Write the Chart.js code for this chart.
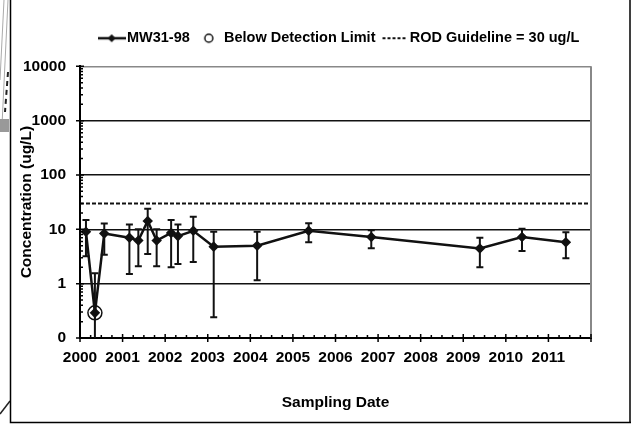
<!DOCTYPE html>
<html>
<head>
<meta charset="utf-8">
<script src="https://cdn.jsdelivr.net/npm/chart.js@4.4.1/dist/chart.umd.min.js"></script>
<style>
  html, body { margin: 0; padding: 0; background: #fff; }
  #wrap { width: 631px; height: 424px; position: relative; }
</style>
</head>
<body>
<div id="wrap"><canvas id="chemChart" width="631" height="424"></canvas></div>
<script>
// ---------- data ----------
const sampleDates = [2000.14, 2000.35, 2000.57, 2001.16, 2001.37, 2001.59, 2001.80, 2002.14, 2002.30, 2002.66,
      2003.14, 2004.16, 2005.37, 2006.84, 2009.39, 2010.38, 2011.41];
const concentration = [9.0, 0.29, 8.4, 7.0, 6.2, 14.2, 6.2, 8.6, 7.5, 9.4, 4.8, 5.0, 9.4, 7.2, 4.45, 7.2, 5.8];
const errHigh = [14.8, 1.55, 12.8, 12.3, 10, 24, 10, 14.8, 12.3, 17, 9.0, 9.0, 12.9, 9.6, 7.0, 10.2, 8.8];
const errLow = [3.2, 0.05, 3.4, 1.5, 2.1, 3.5, 2.1, 2.0, 2.3, 2.5, 0.24, 1.16, 5.8, 4.5, 2.0, 4.0, 2.95];

// non-detect sample (circled)
const bdlDates = [2000.35];
const bdlValues = [0.29];

// ROD guideline
const guidelineValue = 30;
const guidelineRange = [2000, 2012];

// axis ticks
const yTickValues = [0.1, 1, 10, 100, 1000, 10000];
const yTickLabels = ["0", "1", "10", "100", "1000", "10000"];
const xTickYears = [2000, 2001, 2002, 2003, 2004, 2005, 2006, 2007, 2008, 2009, 2010, 2011, 2012];

const legendNames = ["MW31-98", "Below Detection Limit", "ROD Guideline = 30 ug/L"];

const FONT = "'Liberation Sans', Arial, sans-serif";
const INK = "#111";

// --- legend symbols as small canvases ---
function makeSymbol(kind) {
      const c = document.createElement("canvas");
      c.width = kind === "circle" ? 12 : 28;
      c.height = 12;
      const g = c.getContext("2d");
      g.strokeStyle = INK;
      g.fillStyle = INK;
      if (kind === "line") {
            g.lineWidth = 2.5;
            g.beginPath(); g.moveTo(0, 6); g.lineTo(28, 6); g.stroke();
            g.beginPath(); g.moveTo(14, 2); g.lineTo(18, 6); g.lineTo(14, 10); g.lineTo(10, 6); g.closePath(); g.fill();
      } else if (kind === "circle") {
            g.lineWidth = 1.5;
            g.beginPath(); g.arc(6, 6, 4, 0, Math.PI * 2); g.stroke();
      } else {
            g.lineWidth = 2;
            g.setLineDash([3, 2]);
            g.beginPath(); g.moveTo(2, 6); g.lineTo(26, 6); g.stroke();
      }
      return c;
}
const legendSymbols = [makeSymbol("line"), makeSymbol("circle"), makeSymbol("dash")];

// --- error bars, minor ticks and the frame ---
const extrasPlugin = {
      id: "extras",
      afterLayout(chart) {
            // legend sits a little right of the plot centre in the original
            chart.legend.left += 6;
            chart.legend.right += 6;
      },
      beforeDraw(chart) {
            const g = chart.ctx;
            g.save();
            g.fillStyle = "#fff";
            g.fillRect(0, 0, chart.width, chart.height);
            // bits of the neighbouring figure at the left edge
            g.strokeStyle = "#aaa";
            g.lineWidth = 1;
            g.beginPath(); g.moveTo(8, 0); g.lineTo(2, 125); g.stroke();
            g.beginPath(); g.moveTo(4, 0); g.lineTo(0, 80); g.stroke();
            g.fillStyle = "#999";
            g.fillRect(0, 119, 9, 13);
            g.strokeStyle = "#222";
            g.lineWidth = 2;
            g.setLineDash([5, 4]);
            g.beginPath(); g.moveTo(8, 72); g.lineTo(5, 112); g.stroke();
            g.setLineDash([]);
            g.lineWidth = 1.5;
            g.beginPath(); g.moveTo(0, 414); g.lineTo(10, 401); g.stroke();
            // frame
            g.strokeStyle = "#000";
            g.lineWidth = 1.5;
            g.beginPath();
            g.moveTo(10.5, 0); g.lineTo(10.5, 422.5); g.lineTo(631, 422.5);
            g.moveTo(630, 0); g.lineTo(630, 422.5);
            g.stroke();
            g.restore();
      },
      afterDatasetsDraw(chart) {
            const g = chart.ctx;
            const xs = chart.scales.x;
            const ys = chart.scales.y;
            const area = chart.chartArea;

            g.save();
            // right border of plot area
            g.strokeStyle = "#888";
            g.lineWidth = 2;
            g.beginPath(); g.moveTo(area.right, area.top); g.lineTo(area.right, area.bottom); g.stroke();

            // error bars
            g.beginPath();
            g.rect(area.left, area.top - 2, area.right - area.left, area.bottom - area.top + 2);
            g.clip();
            g.strokeStyle = INK;
            g.lineWidth = 2;
            sampleDates.forEach((d, i) => {
                  const px = xs.getPixelForValue(d);
                  const top = ys.getPixelForValue(errHigh[i]);
                  const bot = ys.getPixelForValue(errLow[i]);
                  g.beginPath();
                  g.moveTo(px, top); g.lineTo(px, bot);
                  g.moveTo(px - 3.5, top); g.lineTo(px + 3.5, top);
                  g.moveTo(px - 3.5, bot); g.lineTo(px + 3.5, bot);
                  g.stroke();
            });
            g.restore();

            // tick marks
            g.save();
            g.strokeStyle = "#000";
            g.lineWidth = 1.5;
            g.beginPath();
            for (let p = -1; p <= 3; p++) {
                  for (let k = 2; k <= 9; k++) {
                        const py = ys.getPixelForValue(k * Math.pow(10, p));
                        g.moveTo(area.left, py); g.lineTo(area.left + 3, py);
                  }
            }
            yTickValues.forEach((v) => {
                  const py = ys.getPixelForValue(v);
                  g.moveTo(area.left - 4, py); g.lineTo(area.left + 4, py);
            });
            xTickYears.forEach((yr) => {
                  const px = xs.getPixelForValue(yr);
                  g.moveTo(px, area.bottom - 4); g.lineTo(px, area.bottom + 4);
                  if (yr < 2012) {
                        for (let q = 1; q < 4; q++) {
                              const mx = xs.getPixelForValue(yr + q / 4);
                              g.moveTo(mx, area.bottom - 3); g.lineTo(mx, area.bottom);
                        }
                  }
            });
            g.stroke();
            g.restore();
      },
};

const seriesPoints = sampleDates.map((d, i) => ({ x: d, y: concentration[i] }));
const bdlPoints = bdlDates.map((d, i) => ({ x: d, y: bdlValues[i] }));
const guidePoints = guidelineRange.map((d) => ({ x: d, y: guidelineValue }));

new Chart(document.getElementById("chemChart"), {
      type: "line",
      data: {
            datasets: [
                  {
                        label: legendNames[0],
                        data: seriesPoints,
                        borderColor: INK,
                        backgroundColor: INK,
                        borderWidth: 2.5,
                        pointStyle: "rectRot",
                        pointRadius: 3.5,
                        tension: 0,
                  },
                  {
                        label: legendNames[1],
                        data: bdlPoints,
                        showLine: false,
                        borderColor: INK,
                        backgroundColor: "rgba(0,0,0,0)",
                        pointStyle: "circle",
                        pointRadius: 7,
                        pointBorderWidth: 1.5,
                  },
                  {
                        label: legendNames[2],
                        data: guidePoints,
                        borderColor: INK,
                        borderWidth: 2,
                        borderDash: [4, 2],
                        pointRadius: 0,
                  },
            ],
      },
      options: {
            responsive: false,
            animation: false,
            layout: { padding: { top: 20, left: 10, right: 40, bottom: 12 } },
            plugins: {
                  tooltip: { enabled: false },
                  legend: {
                        position: "top",
                        fullSize: false,
                        labels: {
                              usePointStyle: true,
                              pointStyleWidth: 16,
                              padding: 11,
                              color: "#000",
                              font: { family: FONT, size: 14.5, weight: "bold" },
                              generateLabels: (chart) =>
                                    legendNames.map((name, i) => ({
                                          text: name,
                                          datasetIndex: i,
                                          pointStyle: legendSymbols[i],
                                          fontColor: "#000",
                                          lineWidth: 0,
                                    })),
                        },
                  },
                  // spacer between legend and plot
                  subtitle: {
                        display: true,
                        text: "",
                        weight: 100,
                        padding: 0,
                        font: { size: 9, lineHeight: 1.2 },
                  },
            },
            scales: {
                  x: {
                        type: "linear",
                        min: 2000,
                        max: 2012,
                        afterFit: (scale) => { scale.height = 74; },
                        afterBuildTicks: (scale) => {
                              scale.ticks = xTickYears.map((v) => ({ value: v }));
                        },
                        ticks: {
                              autoSkip: false,
                              maxRotation: 0,
                              padding: 10,
                              color: "#000",
                              font: { family: FONT, size: 15.5, weight: "bold" },
                              callback: (v) => (v === 2012 ? "" : String(v)),
                        },
                        grid: { display: false, drawTicks: false },
                        border: { display: true, color: "#000", width: 2 },
                        title: {
                              display: true,
                              text: "Sampling Date",
                              color: "#000",
                              padding: 0,
                              font: { family: FONT, size: 15.5, weight: "bold" },
                        },
                  },
                  y: {
                        type: "logarithmic",
                        min: 0.1,
                        max: 10000,
                        afterFit: (scale) => { scale.width = 70; },
                        afterBuildTicks: (scale) => {
                              scale.ticks = yTickValues.map((v) => ({ value: v }));
                        },
                        ticks: {
                              padding: 14,
                              color: "#000",
                              font: { family: FONT, size: 15.5, weight: "bold" },
                              callback: (v) => {
                                    const i = yTickValues.indexOf(v);
                                    return i >= 0 ? yTickLabels[i] : "";
                              },
                        },
                        grid: {
                              drawTicks: false,
                              lineWidth: 1.6,
                              color: (ctx) => (ctx.tick && ctx.tick.value === 10000 ? "#888" : "#111"),
                        },
                        border: { display: true, color: "#000", width: 2 },
                        title: {
                              display: true,
                              text: "Concentration (ug/L)",
                              color: "#000",
                              padding: { top: 7, bottom: 0 },
                              font: { family: FONT, size: 15.5, weight: "bold" },
                        },
                  },
            },
      },
      plugins: [extrasPlugin],
});
</script>
</body>
</html>
